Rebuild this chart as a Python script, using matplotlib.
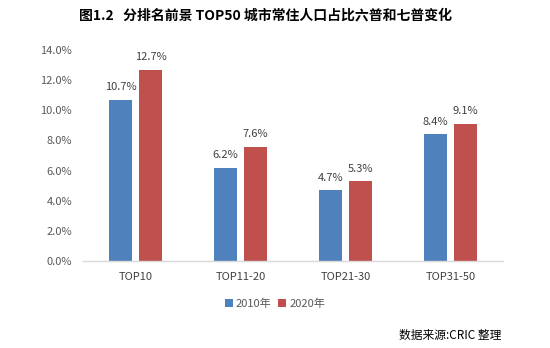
import matplotlib
matplotlib.use("Agg")
import matplotlib.pyplot as plt
import numpy as np

plt.rcParams['font.family'] = ['Noto Sans CJK SC', 'DejaVu Sans']

categories = ["TOP10", "TOP11-20", "TOP21-30", "TOP31-50"]
values_2010 = [10.7, 6.2, 4.7, 8.4]
values_2020 = [12.7, 7.6, 5.3, 9.1]
series_names = ["2010年", "2020年"]
yticks = [0, 2, 4, 6, 8, 10, 12, 14]

blue = "#4F81BD"
red = "#C0504D"

fig = plt.figure(figsize=(5.5, 3.48), dpi=100)
ax = fig.add_axes([0.151, 0.25, 0.764, 0.606])

x = np.arange(len(categories))
w = 0.217
off = 0.143
b1 = ax.bar(x - off, values_2010, w, color=blue, label=series_names[0])
b2 = ax.bar(x + off, values_2020, w, color=red, label=series_names[1])

for bars, vals in ((b1, values_2010), (b2, values_2020)):
    for r, v in zip(bars, vals):
        ax.text(r.get_x() + r.get_width() / 2, v + 0.5, f"{v:.1f}%",
                ha="center", va="bottom", fontsize=8, color="#404040")

ax.set_xlim(-0.5, 3.5)
ax.set_ylim(0, 14)
ax.set_yticks(yticks)
ax.set_yticklabels([f"{t:.1f}%" for t in yticks], fontsize=8, color="#595959")
ax.set_xticks(x)
ax.set_xticklabels(categories, fontsize=8, color="#404040")
ax.tick_params(axis="both", length=0, pad=8)
for s in ("top", "right", "left"):
    ax.spines[s].set_visible(False)
ax.spines["bottom"].set_color("#D9D9D9")
ax.spines["bottom"].set_linewidth(1)

leg = fig.legend(handles=[b1, b2], labels=series_names, loc="center",
                 bbox_to_anchor=(0.5, 0.128), ncol=2, frameon=False,
                 fontsize=8, handlelength=0.7, handleheight=0.7,
                 handletextpad=0.3, columnspacing=0.6)
for t in leg.get_texts():
    t.set_color("#595959")

fig.text(0.482, 0.955, "图1.2   分排名前景 TOP50 城市常住人口占比六普和七普变化",
         ha="center", va="center", fontsize=10, fontweight="bold", color="black")
fig.text(0.725, 0.035, "数据来源:CRIC 整理", ha="left", va="center",
         fontsize=8.5, color="black")

fig.savefig("out.png", dpi=100)
